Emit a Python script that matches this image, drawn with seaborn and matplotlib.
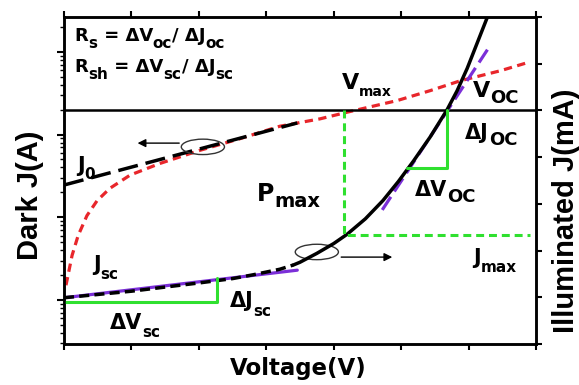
import numpy as np
import matplotlib
matplotlib.use("Agg")
import matplotlib.pyplot as plt
from matplotlib.patches import Ellipse
import seaborn as sns

# dark J-V curve (left axis, log10 of J in A)
dark_v = [0.03, 0.12, 0.21, 0.34, 0.49, 0.68, 0.98, 1.42, 2.02, 2.61, 3.20, 3.80, 4.20, 4.94, 5.43, 5.88, 6.47, 6.88]
dark_logj = [-7.82, -7.46, -7.22, -6.98, -6.80, -6.65, -6.49, -6.35, -6.19, -6.05, -5.90, -5.81, -5.73, -5.59, -5.47, -5.35, -5.23, -5.13]

# J0 fit line on the dark curve
j0_v = [0.0, 3.46]
j0_logj = [-6.61, -5.86]

# illuminated J-V curve (right axis)
illum_v = [0.0, 1.0, 2.02, 2.5, 2.8, 3.2, 3.4, 3.5, 3.75, 4.0, 4.2, 4.47, 4.73, 4.96, 5.18, 5.43, 5.68, 5.83, 5.98, 6.28]
illum_j = [-4.01, -3.87, -3.69, -3.60, -3.52, -3.40, -3.31, -3.25, -3.06, -2.85, -2.65, -2.32, -1.93, -1.52, -1.09, -0.57, 0.01, 0.42, 0.90, 2.0]
split_v = 3.4

# linear fits near Jsc and Voc
jsc_fit_v = [0.0, 3.46]
jsc_fit_j = [-4.01, -3.42]
voc_fit_v = [4.72, 6.28]
voc_fit_j = [-2.13, 1.30]

# slope triangles and Pmax guide
jsc_tri_v = [0.0, 2.27, 2.27]
jsc_tri_j = [-4.10, -4.10, -3.59]
voc_tri_v = [5.09, 5.68, 5.68]
voc_tri_j = [-1.23, -1.23, 0.01]
pmax_v = [4.15, 4.15, 6.91]
pmax_j = [0.0, -2.67, -2.67]

sns.set_style("ticks")
plt.rcParams['font.family'] = ['DejaVu Sans']
plt.rcParams['font.weight'] = 'bold'
plt.rcParams['text.color'] = 'black'
plt.rcParams['axes.edgecolor'] = 'black'
plt.rcParams['xtick.color'] = 'black'
plt.rcParams['ytick.color'] = 'black'

red = '#e8262b'
green = '#2fe02f'
purple = '#7b2fd8'

fig = plt.figure(figsize=(5.79, 3.85), dpi=100)
ax = fig.add_axes([0.1105, 0.1065, 0.8152, 0.8494])
ax2 = ax.twinx()

# left (dark, log scale)
sns.lineplot(x=dark_v, y=10 ** np.array(dark_logj), ax=ax, color=red, lw=2.3,
             linestyle=(0, (2.6, 1.7)), estimator=None, sort=False)
sns.lineplot(x=j0_v, y=10 ** np.array(j0_logj), ax=ax, color='black', lw=2.5,
             linestyle=(0, (5.8, 2.3)), estimator=None, sort=False)
ax.set_yscale('log')
ax.set_ylim(10 ** -8.53, 10 ** -4.58)
ax.set_xlim(0, 7)
ax.set_xticks(range(8))

# right (illuminated, linear)
ax2.axhline(0, color='black', lw=1.8)
sns.lineplot(x=jsc_fit_v, y=jsc_fit_j, ax=ax2, color=purple, lw=2.3, estimator=None, sort=False)
sns.lineplot(x=voc_fit_v, y=voc_fit_j, ax=ax2, color=purple, lw=2.3,
             linestyle=(0, (4.9, 2.0)), estimator=None, sort=False)
v = np.array(illum_v)
j = np.array(illum_j)
low = v <= split_v
sns.lineplot(x=v[low], y=j[low], ax=ax2, color='black', lw=2.5,
             linestyle=(0, (2.9, 1.5)), estimator=None, sort=False)
sns.lineplot(x=v[v >= split_v], y=j[v >= split_v], ax=ax2, color='black', lw=2.5,
             estimator=None, sort=False)
sns.lineplot(x=jsc_tri_v, y=jsc_tri_j, ax=ax2, color=green, lw=2.2, estimator=None, sort=False)
sns.lineplot(x=voc_tri_v, y=voc_tri_j, ax=ax2, color=green, lw=2.2, estimator=None, sort=False)
sns.lineplot(x=pmax_v, y=pmax_j, ax=ax2, color=green, lw=2.2,
             linestyle=(0, (2.6, 1.6)), estimator=None, sort=False)
ax2.set_ylim(-5, 2)
ax2.set_yticks(range(-5, 3))

# ellipses with arrows pointing to their axes
for cx, cy, x0, x1, ya in [(2.06, -0.78, 1.75, 1.05, -0.70), (3.75, -3.03, 4.07, 4.91, -3.14)]:
    ax2.add_patch(Ellipse((cx, cy), 0.64, 0.33, fill=False, ec='#333333', lw=1.0))
    ax2.annotate('', xy=(x1, ya), xytext=(x0, ya),
                 arrowprops=dict(arrowstyle='-|>', color='black', lw=1.0, mutation_scale=12))


def put_label(x, y, pieces, fs, sfs, sub_y=0.1):
    # pieces: list of (text, is_subscript); chained left to right
    first = ax2.text(x, y, pieces[0][0], fontsize=fs, fontweight='bold', ha='left', va='center')
    prev = first
    for txt, is_sub in pieces[1:]:
        prev = ax2.annotate(txt, xy=(1, sub_y if is_sub else 0.5), xycoords=(prev, first),
                            fontsize=sfs if is_sub else fs, fontweight='bold',
                            ha='left', va='center')


put_label(0.16, 1.585, [('R', 0), ('s', 1), (' = ΔV', 0), ('oc', 1), ('/ ΔJ', 0), ('oc', 1)], 13, 11)
put_label(0.16, 0.92, [('R', 0), ('sh', 1), (' = ΔV', 0), ('sc', 1), ('/ ΔJ', 0), ('sc', 1)], 13, 11)
put_label(4.12, 0.578, [('V', 0), ('max', 1)], 16, 10, 0.05)
put_label(6.07, 0.418, [('V', 0), ('OC', 1)], 16, 13, 0.15)
put_label(5.95, -0.49, [('ΔJ', 0), ('OC', 1)], 15, 13, 0.15)
put_label(5.21, -1.71, [('ΔV', 0), ('OC', 1)], 15, 13, 0.15)
put_label(2.86, -1.79, [('P', 0), ('max', 1)], 17, 14, 0.2)
put_label(0.19, -1.20, [('J', 0), ('0', 1)], 15, 11)
put_label(0.43, -3.30, [('J', 0), ('sc', 1)], 15, 11, 0.0)
put_label(0.68, -4.54, [('ΔV', 0), ('sc', 1)], 15, 11, 0.0)
put_label(2.46, -4.09, [('ΔJ', 0), ('sc', 1)], 15, 11, 0.0)
put_label(6.07, -3.15, [('J', 0), ('max', 1)], 15, 11, 0.0)

# spines and ticks
for a in (ax, ax2):
    for sp in a.spines.values():
        sp.set_visible(True)
        sp.set_linewidth(1.8)
        sp.set_color('black')
ax.tick_params(axis='x', which='both', direction='out', top=True, bottom=True,
               labelbottom=False, labeltop=False, length=4, width=1.5)
ax.tick_params(axis='y', which='major', direction='out', length=5, width=1.5, labelleft=False)
ax.tick_params(axis='y', which='minor', direction='out', length=3, width=1.0, labelleft=False)
ax2.tick_params(axis='y', direction='out', length=4, width=1.5, labelright=False)
ax.set_xlabel('')
ax.set_ylabel('')
ax2.set_ylabel('')

fig.text(0.516, 0.044, 'Voltage(V)', fontsize=16.5, fontweight='bold', ha='center', va='center')
fig.text(0.052, 0.494, 'Dark J(A)', fontsize=21, fontweight='bold', ha='center', va='center',
         rotation=90, family='Liberation Sans')
fig.text(0.9775, 0.452, 'Illuminated J(mA)', fontsize=21, fontweight='bold', ha='center', va='center',
         rotation=90, family='Liberation Sans')

fig.savefig('out.png', dpi=100)
